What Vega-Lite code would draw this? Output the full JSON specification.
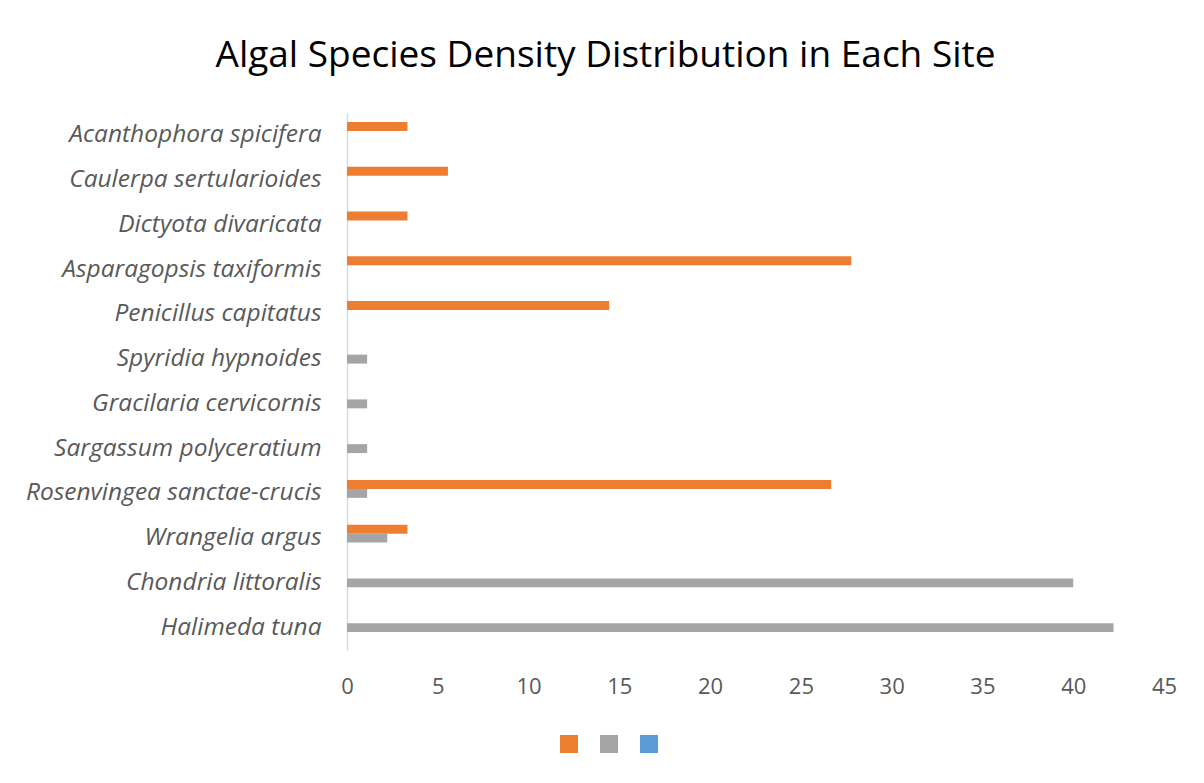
{
  "$schema": "https://vega.github.io/schema/vega-lite/v6.json",
  "autosize": {"type": "none"},
  "width": 817,
  "height": 537,
  "padding": {"left": 347, "top": 113, "right": 40, "bottom": 133},
  "background": "white",
  "title": {
    "text": "Algal Species Density Distribution in Each Site",
    "font": "Open Sans",
    "fontSize": 37,
    "fontWeight": "normal",
    "color": "#000000",
    "anchor": "middle",
    "dx": -150,
    "baseline": "alphabetic",
    "offset": 9
  },
  "config": {
    "view": {"stroke": null},
    "font": "Open Sans"
  },
  "data": {
    "values": [
      {"species": "Acanthophora spicifera", "site": "Site 1", "density": 3.33},
      {"species": "Caulerpa sertularioides", "site": "Site 1", "density": 5.56},
      {"species": "Dictyota divaricata", "site": "Site 1", "density": 3.33},
      {"species": "Asparagopsis taxiformis", "site": "Site 1", "density": 27.78},
      {"species": "Penicillus capitatus", "site": "Site 1", "density": 14.44},
      {"species": "Spyridia hypnoides", "site": "Site 2", "density": 1.11},
      {"species": "Gracilaria cervicornis", "site": "Site 2", "density": 1.11},
      {"species": "Sargassum polyceratium", "site": "Site 2", "density": 1.11},
      {"species": "Rosenvingea sanctae-crucis", "site": "Site 1", "density": 26.67},
      {"species": "Rosenvingea sanctae-crucis", "site": "Site 2", "density": 1.11},
      {"species": "Wrangelia argus", "site": "Site 1", "density": 3.33},
      {"species": "Wrangelia argus", "site": "Site 2", "density": 2.22},
      {"species": "Chondria littoralis", "site": "Site 2", "density": 40.0},
      {"species": "Halimeda tuna", "site": "Site 2", "density": 42.22}
    ]
  },
  "mark": {"type": "bar"},
  "encoding": {
    "y": {
      "field": "species",
      "type": "nominal",
      "sort": [
        "Acanthophora spicifera", "Caulerpa sertularioides", "Dictyota divaricata",
        "Asparagopsis taxiformis", "Penicillus capitatus", "Spyridia hypnoides",
        "Gracilaria cervicornis", "Sargassum polyceratium", "Rosenvingea sanctae-crucis",
        "Wrangelia argus", "Chondria littoralis", "Halimeda tuna"
      ],
      "scale": {"paddingInner": 0.4, "paddingOuter": 0.2},
      "axis": {
        "title": null,
        "ticks": false,
        "labelPadding": 26,
        "labelFont": "Open Sans",
        "labelFontStyle": "italic",
        "labelFontSize": 24.5,
        "labelColor": "#595959",
        "domainColor": "#D9D9D9",
        "domainWidth": 1.5,
        "labelLimit": 400
      }
    },
    "yOffset": {
      "field": "site",
      "type": "nominal",
      "scale": {"domain": ["Site 1", "Site 2", "Site 3"], "paddingInner": 0, "paddingOuter": 0}
    },
    "x": {
      "field": "density",
      "type": "quantitative",
      "scale": {"domain": [0, 45], "nice": false},
      "axis": {
        "title": null,
        "values": [0, 5, 10, 15, 20, 25, 30, 35, 40, 45],
        "grid": false,
        "domain": false,
        "ticks": false,
        "labelPadding": 26,
        "labelFont": "Open Sans",
        "labelFontSize": 22,
        "labelColor": "#595959",
        "labelFlush": false
      }
    },
    "color": {
      "field": "site",
      "type": "nominal",
      "scale": {"domain": ["Site 1", "Site 2", "Site 3"], "range": ["#ED7D31", "#A5A5A5", "#5B9BD5"]},
      "legend": {
        "title": null,
        "orient": "none",
        "direction": "horizontal",
        "legendX": 213,
        "legendY": 622,
        "symbolType": "square",
        "symbolSize": 324,
        "symbolStrokeWidth": 0,
        "symbolOpacity": 1,
        "labelExpr": "''",
        "labelOffset": 0,
        "columnPadding": 22,
        "padding": 0
      }
    }
  }
}
